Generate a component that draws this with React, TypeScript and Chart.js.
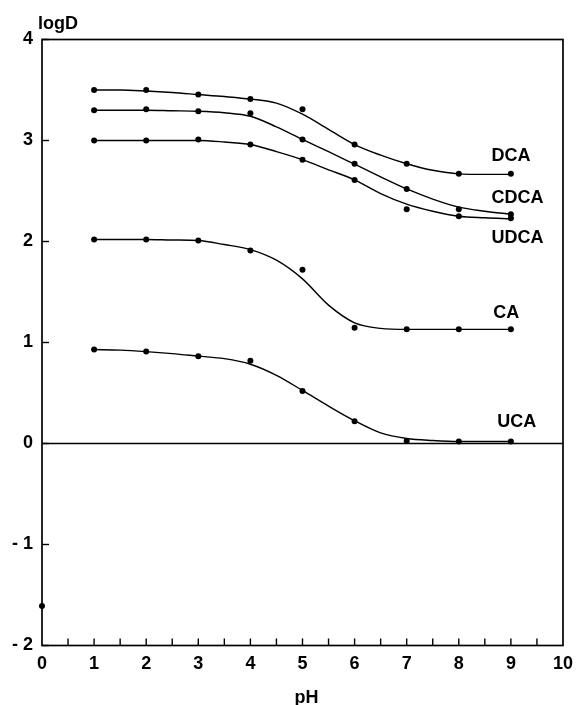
import React, { useEffect, useRef } from "react";
import { Chart, registerables } from "chart.js";

Chart.register(...registerables);

// measured pH values of the data points
const pHValues = [1, 2, 3, 4, 5, 6, 7, 8, 9];
const dcaPoints = [3.5, 3.5, 3.455, 3.41, 3.31, 2.96, 2.77, 2.67, 2.67];
const cdcaPoints = [3.3, 3.31, 3.29, 3.27, 3.01, 2.77, 2.52, 2.32, 2.27];
const udcaPoints = [3.0, 3.0, 3.01, 2.96, 2.81, 2.61, 2.32, 2.25, 2.23];
const caPoints = [2.02, 2.02, 2.01, 1.91, 1.72, 1.145, 1.13, 1.13, 1.13];
const ucaPoints = [0.93, 0.91, 0.865, 0.82, 0.52, 0.22, 0.025, 0.02, 0.02];
const loneX = [0];
const loneY = [-1.61];

// fitted curves
const curvePH = [1, 1.5, 2, 2.5, 3, 3.5, 4, 4.5, 5, 5.5, 6, 6.5, 7, 7.5, 8, 8.5, 9];
const dcaCurve = [3.5, 3.5, 3.49, 3.475, 3.455, 3.435, 3.41, 3.37, 3.26, 3.11, 2.96, 2.855, 2.77, 2.705, 2.67, 2.665, 2.665];
const cdcaCurve = [3.3, 3.3, 3.3, 3.295, 3.29, 3.275, 3.24, 3.135, 3.01, 2.89, 2.765, 2.64, 2.52, 2.42, 2.34, 2.3, 2.27];
const udcaCurve = [3.0, 3.0, 3.0, 3.0, 3.0, 2.985, 2.96, 2.89, 2.81, 2.71, 2.61, 2.475, 2.37, 2.3, 2.25, 2.235, 2.225];
const caCurve = [2.02, 2.02, 2.02, 2.015, 2.01, 1.97, 1.92, 1.815, 1.63, 1.37, 1.195, 1.14, 1.13, 1.13, 1.13, 1.13, 1.13];
const ucaCurve = [0.93, 0.925, 0.91, 0.89, 0.865, 0.84, 0.785, 0.675, 0.525, 0.37, 0.225, 0.105, 0.05, 0.03, 0.02, 0.02, 0.02];

const seriesNames = ["DCA", "CDCA", "UDCA", "CA", "UCA"];
const nameAtPH = [8.63, 8.63, 8.63, 8.66, 8.74];
const nameAtLogD = [2.845, 2.43, 2.03, 1.29, 0.21];

const yTickValues = [-2, -1, 0, 1, 2, 3, 4];
const yTickLabels = ["- 2", "- 1", "0", "1", "2", "3", "4"];
const xTickLabels = ["0", "1", "2", "3", "4", "5", "6", "7", "8", "9", "10"];
const xMinorTicks = [0.5, 1, 1.5, 2, 2.5, 3, 3.5, 4, 4.5, 5, 5.5, 6, 6.5, 7, 7.5, 8, 8.5, 9, 9.5];

const FONT = "'Liberation Sans', Arial, Helvetica, sans-serif";

const toXY = (xs: number[], ys: number[]) => xs.map((x, i) => ({ x, y: ys[i] }));

const overlay = {
  id: "overlay",
  beforeDatasetsDraw(chart: any) {
    const { ctx, chartArea: a, scales } = chart;
    const y0 = scales.y.getPixelForValue(0);
    ctx.save();
    ctx.strokeStyle = "#000";
    ctx.lineWidth = 1.4;
    ctx.beginPath();
    ctx.moveTo(a.left, y0);
    ctx.lineTo(a.right, y0);
    ctx.stroke();
    ctx.restore();
  },
  afterDraw(chart: any) {
    const { ctx, chartArea: a, scales } = chart;
    const x = scales.x;
    const y = scales.y;
    ctx.save();
    ctx.strokeStyle = "#000";
    ctx.lineWidth = 1.7;
    ctx.strokeRect(a.left, a.top, a.right - a.left, a.bottom - a.top);
    ctx.lineWidth = 1.4;
    xMinorTicks.forEach((v) => {
      const px = x.getPixelForValue(v);
      ctx.beginPath();
      ctx.moveTo(px, a.bottom);
      ctx.lineTo(px, a.bottom - 7);
      ctx.stroke();
    });
    yTickValues.forEach((v) => {
      const py = y.getPixelForValue(v);
      ctx.beginPath();
      ctx.moveTo(a.left, py);
      ctx.lineTo(a.left + 7, py);
      ctx.stroke();
    });
    ctx.fillStyle = "#000";
    ctx.font = `bold 18px ${FONT}`;
    ctx.textBaseline = "middle";
    ctx.textAlign = "left";
    seriesNames.forEach((n, i) => {
      ctx.fillText(n, x.getPixelForValue(nameAtPH[i]), y.getPixelForValue(nameAtLogD[i]));
    });
    ctx.fillText("logD", 38, 24);
    ctx.textAlign = "center";
    ctx.fillText("pH", (a.left + a.right) / 2 + 4, 698);
    ctx.restore();
  },
};

export default function App() {
  const ref = useRef<HTMLCanvasElement | null>(null);
  useEffect(() => {
    if (!ref.current) return;
    const pointSet = (xs: number[], data: number[]) => ({
      data: toXY(xs, data),
      showLine: false,
      pointRadius: 3,
      pointBackgroundColor: "#000",
      pointBorderColor: "#000",
      pointBorderWidth: 0,
      clip: false,
    });
    const curveSet = (data: number[]) => ({
      data: toXY(curvePH, data),
      showLine: true,
      pointRadius: 0,
      borderColor: "#000",
      borderWidth: 1.4,
      cubicInterpolationMode: "monotone" as const,
      fill: false,
    });
    const chart = new Chart(ref.current, {
      type: "scatter",
      data: {
        datasets: [
          curveSet(dcaCurve),
          curveSet(cdcaCurve),
          curveSet(udcaCurve),
          curveSet(caCurve),
          curveSet(ucaCurve),
          pointSet(pHValues, dcaPoints),
          pointSet(pHValues, cdcaPoints),
          pointSet(pHValues, udcaPoints),
          pointSet(pHValues, caPoints),
          pointSet(pHValues, ucaPoints),
          pointSet(loneX, loneY),
        ] as any,
      },
      options: {
        animation: false,
        responsive: false,
        layout: { padding: { top: 39.5, right: 11.5, left: 0, bottom: 0 } },
        plugins: { legend: { display: false }, tooltip: { enabled: false } },
        scales: {
          x: {
            type: "linear",
            min: 0,
            max: 10,
            grid: { display: false, drawTicks: false },
            border: { display: false },
            ticks: {
              stepSize: 1,
              padding: 8,
              color: "#000",
              font: { family: FONT, size: 18, weight: "bold" },
              callback: (v: any) => xTickLabels[Math.round(Number(v))] ?? "",
            },
            afterFit: (s: any) => {
              s.height = 59.5;
            },
          },
          y: {
            type: "linear",
            min: -2,
            max: 4,
            grid: { display: false, drawTicks: false },
            border: { display: false },
            ticks: {
              stepSize: 1,
              padding: 9,
              color: "#000",
              font: { family: FONT, size: 18, weight: "bold" },
              callback: (v: any) => {
                const i = yTickValues.indexOf(Number(v));
                return i >= 0 ? yTickLabels[i] : "";
              },
            },
            afterFit: (s: any) => {
              s.width = 42;
            },
          },
        },
      },
      plugins: [overlay],
    });
    return () => chart.destroy();
  }, []);
  return (
    <div style={{ position: "fixed", left: 0, top: 0, width: 581, height: 705, background: "#fff" }}>
      <canvas ref={ref} width={581} height={705} />
    </div>
  );
}
